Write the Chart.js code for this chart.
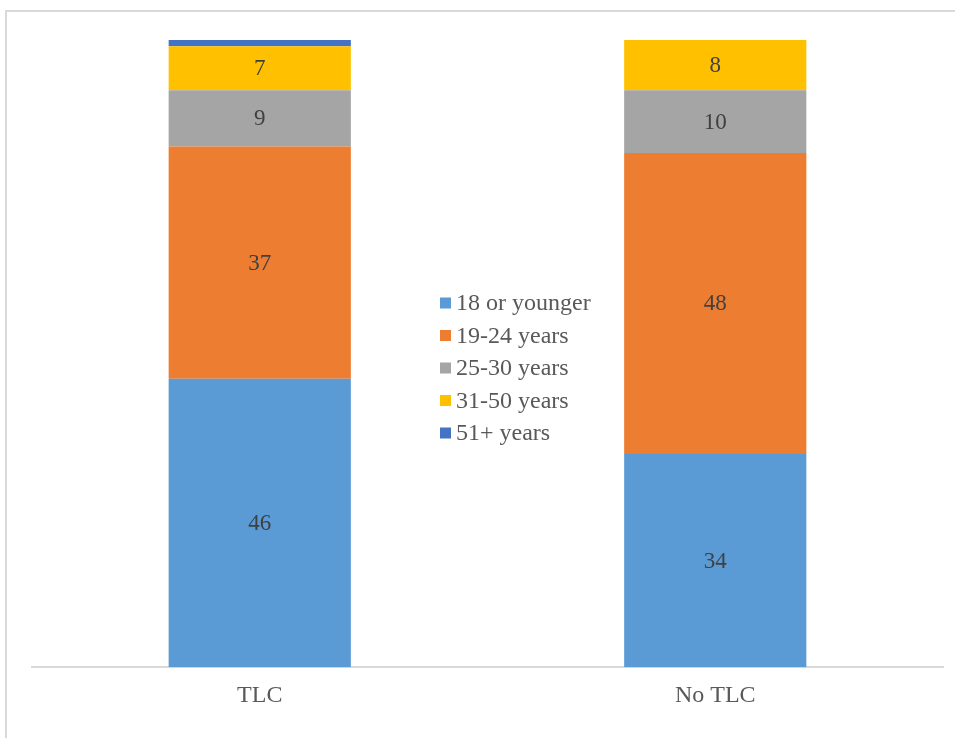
<!DOCTYPE html>
<html>
<head>
<meta charset="utf-8">
<script src="https://cdn.jsdelivr.net/npm/chart.js@4/dist/chart.umd.min.js"></script>
<style>
  html, body { margin: 0; padding: 0; background: #fff; }
  #wrap { position: relative; width: 955px; height: 738px; overflow: hidden; }
  #frame { position: absolute; left: 5px; top: 10px; width: 960px; height: 740px; border: 2px solid #d9d9d9; box-sizing: border-box; }
  canvas { position: absolute; left: 0; top: 0; }
</style>
</head>
<body>
<div id="wrap">
  <div id="frame"></div>
  <canvas id="c" width="955" height="738"></canvas>
</div>
<script>
const categories = ["TLC", "No TLC"];
const seriesNames = ["18 or younger", "19-24 years", "25-30 years", "31-50 years", "51+ years"];
const age18 = [46, 34];
const age19_24 = [37, 48];
const age25_30 = [9, 10];
const age31_50 = [7, 8];
const age51 = [1, 0];
const colors = ["#5B9BD5", "#ED7D31", "#A5A5A5", "#FFC000", "#4472C4"];
const showLabel = [true, true, true, true, false];

const seriesValues = [age18, age19_24, age25_30, age31_50, age51];
const FONT = "'Liberation Serif', 'Times New Roman', serif";

const labelPlugin = {
  id: 'segLabels',
  afterDatasetsDraw(chart) {
    const ctx = chart.ctx;
    ctx.save();
    ctx.font = "23px " + FONT;
    ctx.fillStyle = "#404040";
    ctx.textAlign = "center";
    ctx.textBaseline = "middle";
    chart.data.datasets.forEach((ds, i) => {
      if (!showLabel[i]) return;
      const meta = chart.getDatasetMeta(i);
      meta.data.forEach((el, j) => {
        const v = ds.data[j];
        if (!v) return;
        const p = el.getProps(['x', 'y', 'base'], true);
        ctx.fillText(String(v), p.x, (p.y + p.base) / 2 + 1);
      });
    });
    ctx.restore();
  }
};

const legendPlugin = {
  id: 'midLegend',
  afterDraw(chart) {
    const ctx = chart.ctx;
    ctx.save();
    ctx.font = "24px " + FONT;
    ctx.textAlign = "left";
    ctx.textBaseline = "middle";
    const x0 = 440, y0 = 303, step = 32.5;
    chart.data.datasets.forEach((ds, i) => {
      const y = y0 + i * step;
      ctx.fillStyle = ds.backgroundColor;
      ctx.fillRect(x0, y - 5.5, 11, 11);
      ctx.fillStyle = "#595959";
      ctx.fillText(ds.label, x0 + 16, y + 1);
    });
    ctx.restore();
  }
};

new Chart(document.getElementById('c'), {
  type: 'bar',
  data: {
    labels: categories,
    datasets: seriesNames.map((name, i) => ({
      label: name,
      data: seriesValues[i],
      backgroundColor: colors[i],
      borderWidth: 0,
      barPercentage: 0.4,
      categoryPercentage: 1.0
    }))
  },
  options: {
    responsive: false,
    animation: false,
    layout: { padding: { left: 32, right: 12, top: 40, bottom: 14 } },
    plugins: { legend: { display: false }, tooltip: { enabled: false } },
    scales: {
      x: {
        stacked: true,
        grid: { display: false, drawTicks: false },
        border: { display: true, color: "#d9d9d9", width: 2 },
        ticks: { color: "#595959", font: { family: FONT, size: 24 }, padding: 14 }
      },
      y: {
        stacked: true,
        display: false,
        min: 0,
        max: 100
      }
    }
  },
  plugins: [labelPlugin, legendPlugin]
});
</script>
</body>
</html>
